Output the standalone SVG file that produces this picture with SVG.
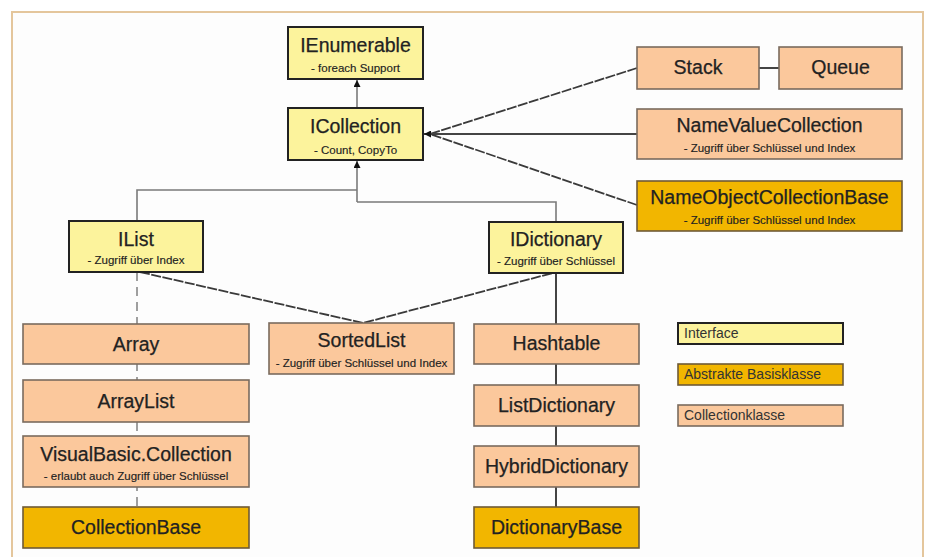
<svg xmlns="http://www.w3.org/2000/svg" width="925" height="557" viewBox="0 0 925 557">
<style>
text{font-family:"Liberation Sans",Arial,sans-serif;fill:#222;text-anchor:middle}
.t{font-size:19.5px;stroke:#222;stroke-width:0.25}
.s{font-size:11.5px;stroke:#222;stroke-width:0.15}
.l{font-size:14px;text-anchor:start;fill:#333}
.if{fill:#fcf39c;stroke:#222;stroke-width:2}
.cl{fill:#fbc89c;stroke:#7a6b5e;stroke-width:1.6}
.ab{fill:#f2b600;stroke:#6e5a36;stroke-width:1.6}
.g{fill:none;stroke:#7a7a7a;stroke-width:1.6}
.d{fill:none;stroke:#444;stroke-width:2}
.dash{fill:none;stroke:#3a3a3a;stroke-width:1.8;stroke-dasharray:10,1.5}
.ldash{fill:none;stroke:#888;stroke-width:1.6;stroke-dasharray:9,6}
</style>
<defs>
<marker id="ah" viewBox="0 0 10 10" refX="10" refY="5" markerWidth="7" markerHeight="7" markerUnits="userSpaceOnUse" orient="auto">
<path d="M0,0 L10,5 L0,10 z" fill="#111"/>
</marker>
</defs>
<rect x="0" y="0" width="925" height="557" fill="#fff"/>
<rect x="12" y="12" width="911" height="560" fill="#fdfdfd" stroke="#e4c69c" stroke-width="2"/>
<g id="connectors">
<path class="g" d="M357,108 V80" marker-end="url(#ah)"/>
<path class="g" d="M357,202 V161" marker-end="url(#ah)"/>
<path class="g" d="M137,221 V190 H357"/>
<path class="g" d="M556,222 V202 H357"/>
<path class="dash" d="M637,68 L430,134"/>
<path class="d" d="M637,134 H424" marker-end="url(#ah)"/>
<path class="dash" d="M637,205 L430,134"/>
<path class="d" d="M759,68 H779"/>
<path class="ldash" d="M137,272 V507"/>
<path class="dash" d="M140,272 L363,323 L553,273"/>
<path class="d" d="M556,273 V507"/>
</g>
<g id="IEnumerable"><rect class="if" x="288" y="27" width="135" height="52"/><text class="t" x="355.5" y="52">IEnumerable</text><text class="s" x="355.5" y="72">- foreach Support</text></g>
<g id="ICollection"><rect class="if" x="288" y="108" width="135" height="52"/><text class="t" x="355.5" y="133">ICollection</text><text class="s" x="355.5" y="154">- Count, CopyTo</text></g>
<g id="IList"><rect class="if" x="69" y="221" width="134" height="51"/><text class="t" x="136" y="246">IList</text><text class="s" x="136" y="264">- Zugriff über Index</text></g>
<g id="IDictionary"><rect class="if" x="489" y="222" width="134" height="51"/><text class="t" x="556" y="246">IDictionary</text><text class="s" x="556" y="265">- Zugriff über Schlüssel</text></g>
<g id="Stack"><rect class="cl" x="637" y="47" width="122" height="42"/><text class="t" x="698" y="74">Stack</text></g>
<g id="Queue"><rect class="cl" x="779" y="47" width="123" height="42"/><text class="t" x="840.5" y="74">Queue</text></g>
<g id="NameValueCollection"><rect class="cl" x="637" y="109" width="265" height="50"/><text class="t" x="769.5" y="132">NameValueCollection</text><text class="s" x="769.5" y="152">- Zugriff über Schlüssel und Index</text></g>
<g id="NameObjectCollectionBase"><rect class="ab" x="637" y="181" width="265" height="50"/><text class="t" x="769.5" y="204">NameObjectCollectionBase</text><text class="s" x="769.5" y="224">- Zugriff über Schlüssel und Index</text></g>
<g id="Array"><rect class="cl" x="23" y="324" width="226" height="40"/><text class="t" x="136" y="351">Array</text></g>
<g id="ArrayList"><rect class="cl" x="23" y="380" width="226" height="42"/><text class="t" x="136" y="408">ArrayList</text></g>
<g id="VisualBasicCollection"><rect class="cl" x="23" y="436" width="226" height="51"/><text class="t" x="136" y="461">VisualBasic.Collection</text><text class="s" x="136" y="480">- erlaubt auch Zugriff über Schlüssel</text></g>
<g id="CollectionBase"><rect class="ab" x="23" y="507" width="226" height="41"/><text class="t" x="136" y="534">CollectionBase</text></g>
<g id="SortedList"><rect class="cl" x="269" y="323" width="185" height="51"/><text class="t" x="361.5" y="347">SortedList</text><text class="s" x="361.5" y="367">- Zugriff über Schlüssel und Index</text></g>
<g id="Hashtable"><rect class="cl" x="474" y="324" width="165" height="40"/><text class="t" x="556.5" y="350">Hashtable</text></g>
<g id="ListDictionary"><rect class="cl" x="474" y="385" width="165" height="41"/><text class="t" x="556.5" y="412">ListDictionary</text></g>
<g id="HybridDictionary"><rect class="cl" x="474" y="446" width="165" height="41"/><text class="t" x="556.5" y="473">HybridDictionary</text></g>
<g id="DictionaryBase"><rect class="ab" x="474" y="507" width="165" height="41"/><text class="t" x="556.5" y="534">DictionaryBase</text></g>
<g id="legend-interface"><rect class="if" x="678" y="323" width="165" height="21"/><text class="l" x="684" y="338">Interface</text></g>
<g id="legend-abstract"><rect class="ab" x="678" y="364" width="165" height="21"/><text class="l" x="684" y="379">Abstrakte Basisklasse</text></g>
<g id="legend-collection"><rect class="cl" x="678" y="405" width="165" height="21"/><text class="l" x="684" y="420">Collectionklasse</text></g>
</svg>
